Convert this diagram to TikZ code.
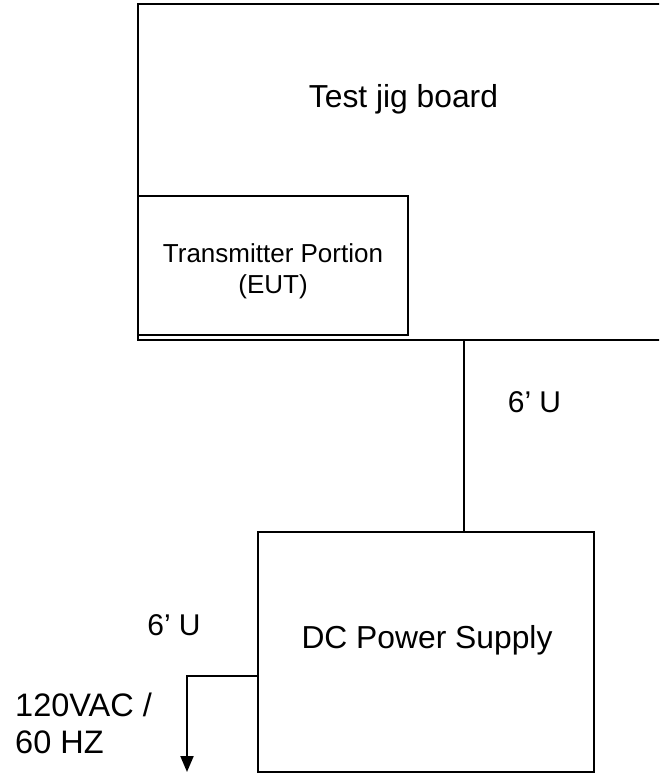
\documentclass[tikz,border=0pt]{standalone}
\usepackage{fontspec}
\setmainfont{Liberation Sans}
\usetikzlibrary{arrows.meta}
\tikzset{
  box/.style={draw, line width=2pt, inner sep=0pt, rectangle},
  wire/.style={line width=2pt},
  lbl/.style={inner sep=0pt, font=\fontsize{30}{36}\selectfont},
}
\begin{document}
\begin{tikzpicture}[x=1pt,y=-1pt]
\useasboundingbox (0,0) rectangle (659,773);
\clip (0,0) rectangle (659,773);
% boxes
\node[box, minimum width=562pt, minimum height=336pt] (board) at (419,172) {};
\node[box, minimum width=270pt, minimum height=139pt] (tx) at (273,265.5) {};
\node[box, minimum width=336pt, minimum height=240pt] (dc) at (426,652) {};
% texts
\node[lbl, anchor=base, font=\fontsize{31.8}{36}\selectfont] (boardlbl) at (403.5,108) {Test jig board};
\node[lbl, anchor=north, align=center, font=\fontsize{26}{31}\selectfont] (txlbl) at (273,243.4) {Transmitter Portion\\(EUT)};
\node[lbl, anchor=base, font=\fontsize{31.8}{36}\selectfont] (dclbl) at (427,648.3) {DC Power Supply};
\node[lbl, anchor=base] (cab1) at (534.5,412.7) {6’ U};
\node[lbl, anchor=base] (cab2) at (174,635.5) {6’ U};
\node[lbl, anchor=north west, align=left, font=\fontsize{32.5}{37}\selectfont] (ac) at (15,693) {120VAC /\\60 HZ};
% connectors
\coordinate (tap) at (464,0);
\draw[wire] (tap |- board.south) -- (tap |- dc.north);
\coordinate (bend) at (187,676);
\coordinate (acend) at (187,772);
\draw[wire, -{Triangle[width=13pt,length=16pt]}] (dc.west |- bend) -- (bend) -- (acend);
\end{tikzpicture}
\end{document}
